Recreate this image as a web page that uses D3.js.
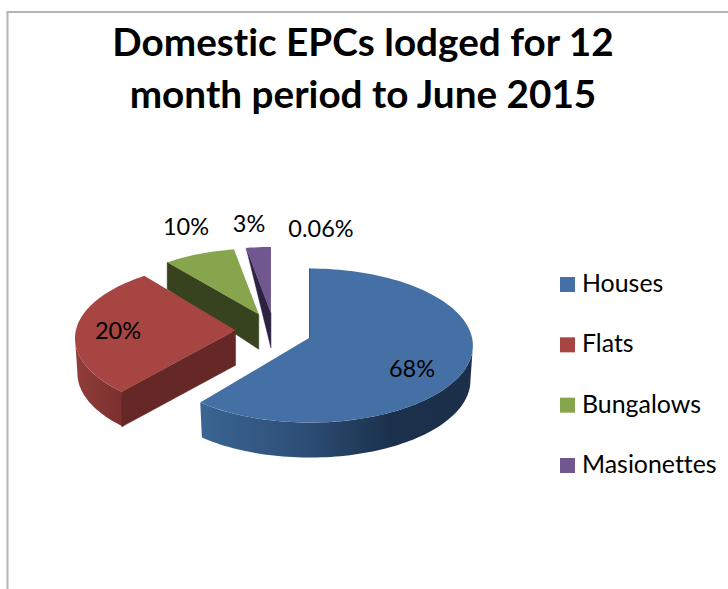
<!DOCTYPE html>
<html>
<head>
<meta charset="utf-8">
<script src="https://cdn.jsdelivr.net/npm/d3@7"></script>
<style>
  html, body { margin: 0; padding: 0; background: #fff; }
  svg { display: block; }
  text { font-family: Lato, "Open Sans", sans-serif; fill: #000; font-variant-ligatures: none; }
</style>
</head>
<body>
<div id="chart"></div>
<script>
const titleLines = ["Domestic EPCs lodged for 12", "month period to June 2015"];
const categories = ["Houses", "Flats", "Bungalows", "Masionettes"];
// shares as drawn in the picture (the printed labels do not quite match the angles)
const shares = [61, 27.5, 7.8, 2.5];
const percentLabels = ["68%", "20%", "10%", "3%", "0.06%"];

const width = 728, height = 589;
const topColors = ["#4570a6", "#a64542", "#87a54d", "#71578f"];
const wallColors = ["#22395a", "#652826", "#36431e", "#2d2340"];
const labelSpots = [[412, 377], [118, 339], [186, 235], [249, 232], [321, 237]];

// pie geometry: ellipse radii, explode amount, thickness
const center = [274, 331], rx = 163, ry = 77, explode = 0.236, rimDrop = 8, depth = 35;
const sliceScale = [1, 0.985, 0.96, 0.96]; // slices pushed back look a bit smaller
const startSkew = [0, 0.05, 0.03, 0]; // small skew of the exploded cuts
const endSkew = [0, 0.05, 0, 0];
const bottomScale = 0.985;
const wallRim = [35, 35, 27, 0];

const svg = d3.select("#chart").append("svg")
  .attr("width", width)
  .attr("height", height);

const defs = svg.append("defs");
function sideGradient(id, x1, x2, stops) {
  const g = defs.append("linearGradient")
    .attr("id", id)
    .attr("gradientUnits", "userSpaceOnUse")
    .attr("x1", x1).attr("x2", x2).attr("y1", 0).attr("y2", 0);
  stops.forEach(s => g.append("stop").attr("offset", s[0]).attr("stop-color", s[1]));
}
sideGradient("side0", 202, 473, [[0, "#3a6492"], [0.35, "#2e5078"], [0.7, "#1b304c"], [1, "#1b2f4a"]]);
sideGradient("side1", 77, 122, [[0, "#8f3d3a"], [1, "#7b302e"]]);

// chart frame, open on the right and bottom
svg.append("path")
  .attr("d", "M7.5,589V12H728")
  .attr("fill", "none")
  .attr("stroke", "#b3b3b3")
  .attr("stroke-width", 2);

svg.append("g").selectAll("text")
  .data(titleLines)
  .join("text")
  .attr("x", 363)
  .attr("y", (d, i) => 56 + i * 51.5)
  .attr("text-anchor", "middle")
  .attr("font-size", 38.7)
  .attr("font-weight", 700)
  .text(d => d);

const pie = d3.pie().sort(null).value(d => d);
const slices = pie(shares);
const line = d3.line();

function apexOf(s) {
  const mid = (s.startAngle + s.endAngle) / 2;
  return [center[0] + explode * rx * Math.sin(mid), center[1] - explode * ry * Math.cos(mid)];
}
function rimPoint(apex, a, k) {
  return [apex[0] + k * rx * Math.sin(a), apex[1] + rimDrop - k * ry * Math.cos(a)];
}
function rimPoints(apex, a0, a1, k) {
  const n = Math.max(2, Math.ceil((a1 - a0) / 0.03));
  return d3.range(n + 1).map(i => rimPoint(apex, a0 + (a1 - a0) * i / n, k));
}

// draw back to front
const order = [3, 2, 1, 0];
const g = svg.append("g");
order.forEach(i => {
  const s = slices[i];
  const k = sliceScale[i];
  const apex = apexOf(s);
  const start = s.startAngle + startSkew[i];
  const end = s.endAngle + endSkew[i];
  const group = g.append("g");

  // outer wall, front half of the rim only
  const a0 = Math.max(start, Math.PI / 2);
  const a1 = Math.min(end, Math.PI * 1.5);
  if (a1 > a0) {
    const upper = rimPoints(apex, a0, a1, k);
    const lower = upper.map(p => [apex[0] + (p[0] - apex[0]) * bottomScale, p[1] + depth]).reverse();
    group.append("path")
      .attr("d", line(upper.concat(lower)) + "Z")
      .attr("fill", `url(#side${i})`);
  }

  // wall along the starting cut
  const r = rimPoint(apex, start, k);
  const wall = [r, apex, [apex[0], apex[1] + depth], [r[0], r[1] + wallRim[i]]];
  group.append("path")
    .attr("d", line(wall) + "Z")
    .attr("fill", wallColors[i])
    .attr("stroke", wallColors[i])
    .attr("stroke-width", i === 0 ? 1.5 : 0.5);

  // top face
  const face = [apex].concat(rimPoints(apex, start, end, k));
  group.append("path")
    .attr("d", line(face) + "Z")
    .attr("fill", topColors[i]);
});

svg.append("g").selectAll("text")
  .data(percentLabels)
  .join("text")
  .attr("x", (d, i) => labelSpots[i][0])
  .attr("y", (d, i) => labelSpots[i][1])
  .attr("text-anchor", "middle")
  .attr("font-size", 23.5)
  .text(d => d);

// legend
const legendY = d3.scalePoint().domain(categories).range([284.5, 465.5]);
const legend = svg.append("g").selectAll("g")
  .data(categories)
  .join("g")
  .attr("transform", d => `translate(560,${legendY(d)})`);
legend.append("rect")
  .attr("y", -7.5)
  .attr("width", 15)
  .attr("height", 15)
  .attr("fill", (d, i) => topColors[i]);
legend.append("text")
  .attr("x", 22)
  .attr("y", 7.5)
  .attr("font-size", 24.9)
  .text(d => d);
</script>
</body>
</html>
